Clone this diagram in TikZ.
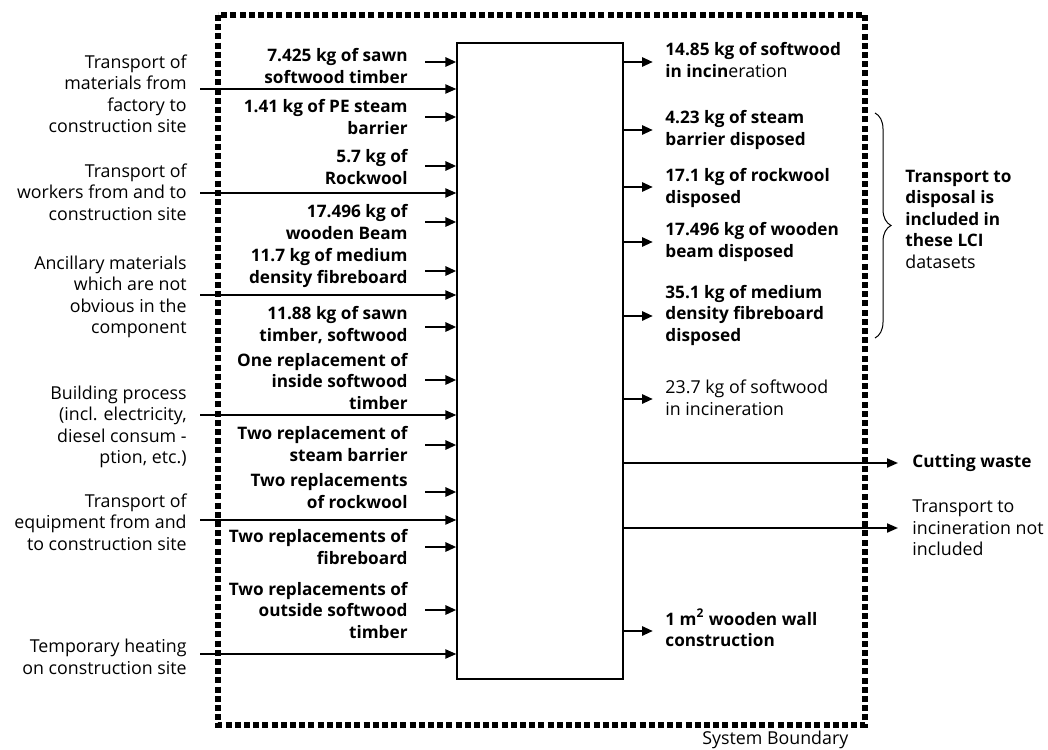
\documentclass[tikz,border=0pt]{standalone}
\usepackage{fontspec}
\setmainfont{Open Sans}
\usetikzlibrary{arrows.meta,decorations.pathreplacing}

\begin{document}
\begin{tikzpicture}[x=0.5pt,y=-0.5pt,
  txt/.style={font=\fontsize{8.9}{10.75}\selectfont, inner sep=0pt},
  bold/.style={font=\fontsize{8.6}{10.75}\selectfont\bfseries},
  srclbl/.style={txt, align=right, anchor=east},
  matlbl/.style={txt, bold, align=right, anchor=east},
  outlbl/.style={txt, align=left, anchor=west},
  longarr/.style={line width=1pt, -{Triangle[length=5.5pt,width=4.5pt]}},
  shortarr/.style={line width=1.4pt, -{Triangle[length=5.5pt,width=4.5pt]}},
  boundary/.style={line width=2.6pt, dash pattern=on 3pt off 1.6pt}]
\useasboundingbox (0,0) rectangle (1048,749);

% system boundary
\draw[boundary] (218,15) rectangle (865,725);
\node[txt, anchor=west] (sysb) at (702,740) {System Boundary};

% process box
\node[draw, line width=0.6pt, minimum width=83pt, minimum height=318pt, inner sep=0pt] (proc) at (540,361) {};

% inputs crossing the boundary
\foreach \y [count=\i] in {89,193,295,415,520,654} {
  \coordinate (src\i) at (200,\y);
  \draw[longarr] (src\i) -- (src\i -| proc.west);
}
\node[srclbl] (src1lbl) at (187,94) {Transport of\\materials from\\factory to\\construction site};
\node[srclbl] (src2lbl) at (187,192) {Transport of\\workers from and to\\construction site};
\node[srclbl] (src3lbl) at (187,297) {Ancillary materials\\which are not\\obvious in the\\component};
\node[srclbl] (src4lbl) at (187,427) {Building process\\(incl. electricity,\\diesel consum -\\ption, etc.)};
\node[srclbl] (src5lbl) at (187,522) {Transport of\\equipment from and\\to construction site};
\node[srclbl] (src6lbl) at (187,657) {Temporary heating\\on construction site};

% material inputs
\foreach \y [count=\i] in {62,117,166,222,271,327,380,445,492,547,610} {
  \coordinate (mat\i) at (425,\y);
  \draw[shortarr] (mat\i) -- (mat\i -| proc.west);
}
\node[matlbl] (mat1lbl) at (408,66) {7.425 kg of sawn\\softwood timber};
\node[matlbl] (mat2lbl) at (408,117) {1.41 kg of PE steam\\barrier};
\node[matlbl] (mat3lbl) at (408,167) {5.7 kg of\\Rockwool};
\node[matlbl] (mat4lbl) at (408,222) {17.496 kg of\\wooden Beam};
\node[matlbl] (mat5lbl) at (408,268) {11.7 kg of medium\\density fibreboard};
\node[matlbl] (mat6lbl) at (408,325) {11.88 kg of sawn\\timber, softwood};
\node[matlbl] (mat7lbl) at (408,381) {One replacement of\\inside softwood\\timber};
\node[matlbl] (mat8lbl) at (408,444) {Two replacement of\\steam barrier};
\node[matlbl] (mat9lbl) at (408,491) {Two replacements\\of rockwool};
\node[matlbl] (mat10lbl) at (408,547) {Two replacements of\\fibreboard};
\node[matlbl] (mat11lbl) at (408,610) {Two replacements of\\outside softwood\\timber};

% outputs
\foreach \y [count=\i] in {62,130,187,242,316,399,631} {
  \coordinate (out\i) at (653,\y);
  \draw[shortarr] (out\i -| proc.east) -- (out\i);
}
\node[outlbl] (out1lbl) at (665,60) {\textbf{\fontsize{8.6}{10.75}\selectfont 14.85 kg of softwood}\\\textbf{\fontsize{8.6}{10.75}\selectfont in incin}eration};
\node[outlbl, bold] (out2lbl) at (665,130) {4.23 kg of steam\\barrier disposed};
\node[outlbl, bold] (out3lbl) at (665,188) {17.1 kg of rockwool\\disposed};
\node[outlbl, bold] (out4lbl) at (665,242) {17.496 kg of wooden\\beam disposed};
\node[outlbl, bold] (out5lbl) at (665,315) {35.1 kg of medium\\density fibreboard\\disposed};
\node[outlbl] (out6lbl) at (665,398) {23.7 kg of softwood\\in incineration};
\node[outlbl, bold] (out7lbl) at (665,628) {1 m\textsuperscript{2} wooden wall\\construction};

% outputs crossing the boundary
\coordinate (waste) at (898,463);
\coordinate (trans) at (898,528);
\draw[longarr] (waste -| proc.east) -- (waste);
\draw[longarr] (trans -| proc.east) -- (trans);
\node[outlbl, bold] (wastelbl) at (912,463) {Cutting waste};
\node[outlbl] (translbl) at (912,528) {Transport to\\incineration not\\included};

% brace
\draw[line width=0.5pt, decorate, decoration={brace, amplitude=8pt}] (875,113) -- (875,338);
\node[outlbl] (bracelbl) at (905,219) {\textbf{\fontsize{8.6}{10.75}\selectfont Transport to}\\\textbf{\fontsize{8.6}{10.75}\selectfont disposal is}\\\textbf{\fontsize{8.6}{10.75}\selectfont included in}\\\textbf{\fontsize{8.6}{10.75}\selectfont these LCI}\\datasets};
\end{tikzpicture}
\end{document}
